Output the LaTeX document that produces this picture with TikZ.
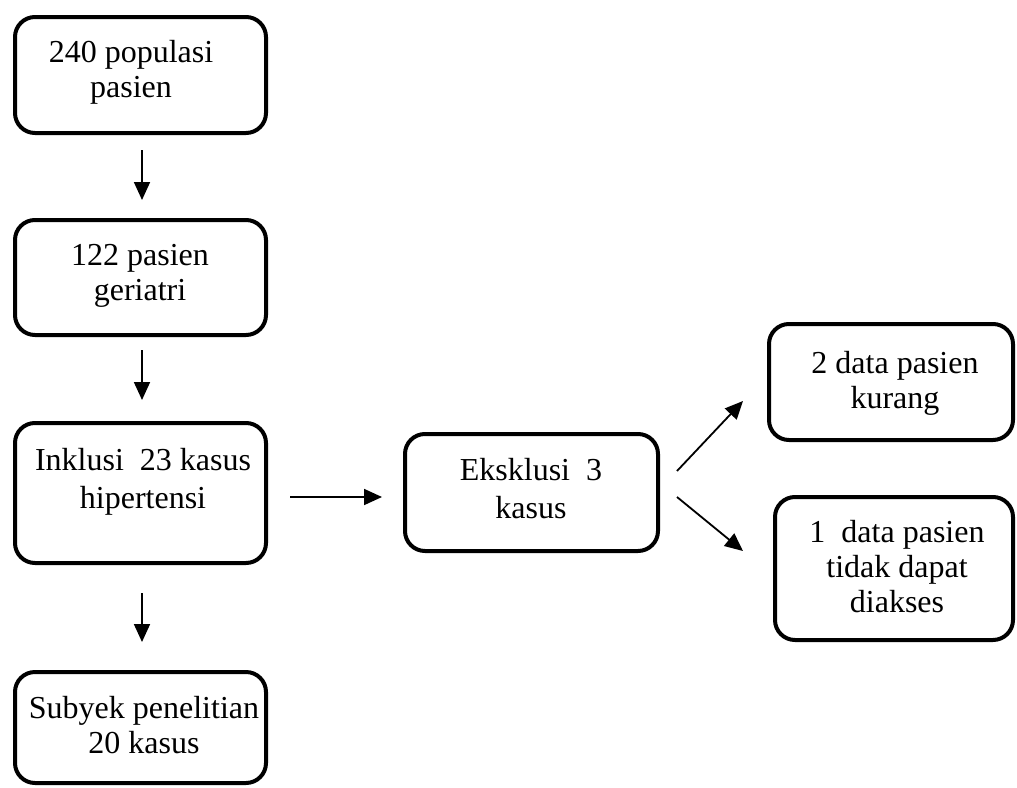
\documentclass[tikz,border=0pt]{standalone}
\usepackage{fontspec}
\setmainfont{Liberation Serif}
\usetikzlibrary{arrows.meta,calc}
\tikzset{
  box/.style={draw, line width=4pt, rounded corners=20pt, inner sep=0pt},
  txt/.style={align=center, anchor=base, inner sep=0pt, font=\fontsize{32}{35}\selectfont},
  txtw/.style={txt, font=\fontsize{32}{38}\selectfont},
  arr/.style={line width=1.8pt, -{Triangle[length=18pt,width=16pt]}}
}
\begin{document}
\begin{tikzpicture}[x=1pt,y=-1pt]
\useasboundingbox (0,0) rectangle (1017,787);
% boxes
\node[box, minimum width=251pt, minimum height=116pt] (b1) at (140.5,75) {};
\node[box, minimum width=251pt, minimum height=115pt] (b2) at (140.5,277.5) {};
\node[box, minimum width=251pt, minimum height=140pt] (b3) at (140.5,493) {};
\node[box, minimum width=251pt, minimum height=111pt] (b4) at (140.5,727.5) {};
\node[box, minimum width=253pt, minimum height=117pt] (b5) at (531.5,492.5) {};
\node[box, minimum width=244pt, minimum height=116pt] (b6) at (891,382) {};
\node[box, minimum width=238pt, minimum height=143pt] (b7) at (894,568.5) {};
% texts (anchor base = baseline of last line)
\node[txt] (t1) at (131,97) {240 populasi\\pasien};
\node[txt] (t2) at (140,300) {122 pasien\\geriatri};
\node[txtw] (t3) at (143,508) {Inklusi\ \ 23 kasus\\hipertensi};
\node[txt] (t4) at (144,753) {Subyek penelitian\\20 kasus};
\node[txtw] (t5) at (531,518) {Eksklusi\ \ 3\\kasus};
\node[txt] (t6) at (895,408) {2 data pasien\\kurang};
\node[txt] (t7) at (897,612) {1\ \ data pasien\\tidak dapat\\diakses};
% connector ends
\coordinate (a1s) at (142,150); \coordinate (a1e) at (142,200);
\coordinate (a2s) at (142,350); \coordinate (a2e) at (142,400);
\coordinate (a3s) at (142,593); \coordinate (a3e) at (142,642);
\coordinate (h1s) at (290,497); \coordinate (h1e) at (382,497);
\coordinate (d1s) at (677,471); \coordinate (d1e) at (743,401);
\coordinate (d2s) at (677,497); \coordinate (d2e) at (743,551);
\draw[arr] (a1s) -- (a1e);
\draw[arr] (a2s) -- (a2e);
\draw[arr] (a3s) -- (a3e);
\draw[arr] (h1s) -- (h1e);
\draw[arr] (d1s) -- (d1e);
\draw[arr] (d2s) -- (d2e);
\end{tikzpicture}
\end{document}
